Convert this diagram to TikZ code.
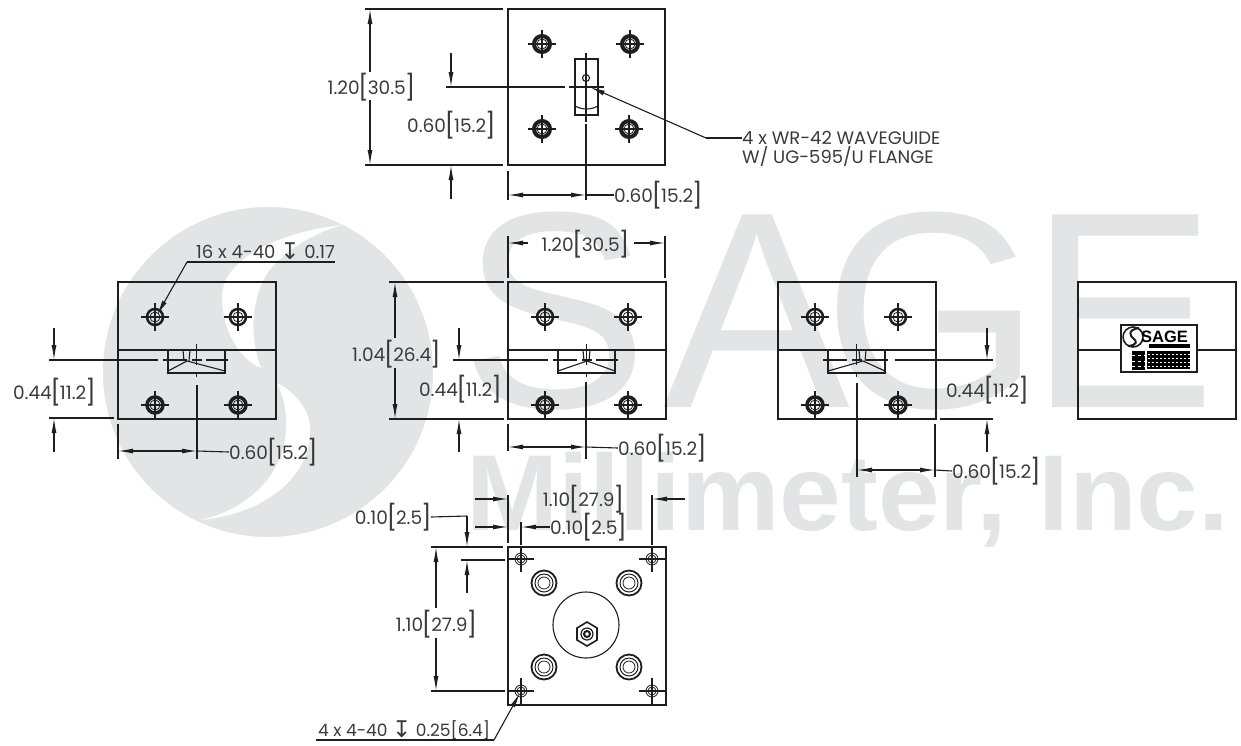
\documentclass[tikz,border=0pt]{standalone}
\usepackage{fontspec}
\setmainfont{Poppins}
\newfontfamily\wmfont{Liberation Sans}
\newfontfamily\symfont{DejaVu Sans}
\usetikzlibrary{arrows.meta}
\definecolor{wm}{HTML}{E3E4E5}
\definecolor{ink}{HTML}{1E1E1E}
\definecolor{txt}{HTML}{3A3A3A}
\tikzset{
  body/.style={draw=ink,line width=1.5pt},
  thin line/.style={draw=ink,line width=1.1pt},
  dimarrow/.style={draw=ink,line width=1.1pt,-{Latex[length=15pt,width=5pt]}},
  dimtwo/.style={draw=ink,line width=1.1pt,{Latex[length=15pt,width=5pt]}-{Latex[length=15pt,width=5pt]}},
  dimlabel/.style={text=txt,font=\fontsize{18.5}{20}\selectfont,inner sep=0pt},
  notelabel/.style={text=txt,font=\fontsize{18}{18}\selectfont,inner sep=0pt,anchor=west},
}
\newcommand{\Dep}{{\symfont\fontsize{23}{23}\selectfont\raisebox{-1pt}{\char"21A7}}}
\newcommand{\LB}{\kern-1.5pt\raisebox{-2.2pt}{\fontsize{25}{25}\selectfont[}\kern-1pt}
\newcommand{\RB}{\kern-1pt\raisebox{-2.2pt}{\fontsize{25}{25}\selectfont]}\kern-1pt}
\newcommand{\Dm}[2]{#1\LB#2\RB}
\newcommand{\holeA}[3][1.2pt]{%
  \draw[ink,line width=#1] (#2,#3) circle (8);
  \draw[ink,line width=.8pt] (#2,#3) circle (5);
  \draw[thin line] (#2-14,#3) -- (#2+14,#3) (#2,#3-14) -- (#2,#3+14);
}
\newcommand{\holeB}[2]{%
  \draw[ink,line width=.8pt] (#1,#2) circle (6);
  \draw[ink,line width=.8pt] (#1,#2) circle (4);
  \draw[thin line] (#1-13,#2) -- (#1+13,#2) (#1,#2-13) -- (#1,#2+13);
}
\newcommand{\ringhole}[2]{%
  \draw[ink,line width=1.8pt] (#1,#2) circle (12.5);
  \draw[ink,line width=1pt] (#1,#2) circle (9);
  \draw[ink,line width=.8pt] (#1,#2) circle (6);
}
% #1 left x of the body; #2 apex offset from centre
\newcommand{\sideview}[2]{%
  \draw[body] (#1,282) rectangle (#1+158,419);
  \draw[body] (#1,350) -- (#1+158,350);
  \holeA[2.5pt]{#1+37}{317}
  \holeA[2.5pt]{#1+120}{317}
  \holeA[3.5pt]{#1+37}{405}
  \holeA[3.5pt]{#1+120}{405}
  \draw[body] (#1+50,350) -- (#1+50,373) -- (#1+107,373) -- (#1+107,350);
  \draw[thin line] (#1+50,371) -- (#1+79+#2,361) -- (#1+107,371);
  \draw[thin line] (#1+75+#2,350) -- (#1+76+#2,361) (#1+82+#2,350) -- (#1+81+#2,361);
  \draw[thin line] (#1+45,360) -- (#1+69,360) (#1+74,360) -- (#1+84,360) (#1+88,360) -- (#1+110,360);
  \draw[thin line] (#1+78.5,344) -- (#1+78.5,365) (#1+78.5,372) -- (#1+78.5,377);
}
\begin{document}
\begin{tikzpicture}[x=1pt,y=-1pt]
\useasboundingbox (0,0) rectangle (1241,745);
\fill[white] (0,0) rectangle (1241,745);
% ---- watermark
\fill[wm] (268,372) circle (165);
\fill[white] (343,225) .. controls (290,230) and (222,255) .. (222,297)
  .. controls (222,330) and (240,360) .. (261,368)
  .. controls (250,340) and (250,300) .. (268,272)
  .. controls (285,250) and (315,232) .. (343,225) -- cycle;
\fill[white] (277,383) .. controls (300,395) and (312,415) .. (310,435)
  .. controls (308,480) and (260,515) .. (200,520)
  .. controls (245,510) and (278,480) .. (285,440)
  .. controls (288,415) and (285,400) .. (277,383) -- cycle;
\node[text=wm,inner sep=0pt,anchor=base west,font=\wmfont\fontsize{280}{280}\selectfont] (wmsage) at (461,407) {S\kern16ptA\kern-27ptG\kern-12ptE};
\node[text=wm,inner sep=0pt,anchor=base west,font=\wmfont\bfseries\fontsize{108}{108}\selectfont] (wmmilli) at (466,530) {\scalebox{1.025}[1]{Millimeter, Inc.}};
% ---- top view
\draw[body] (508,9) rectangle (665,165);
\holeA[4pt]{542}{44}
\holeA[4pt]{630}{44}
\holeA[4pt]{542}{129}
\holeA[4pt]{629}{129}
\draw[body] (575,59) rectangle (598,115);
\draw[thin line] (575,106) .. controls (582,110) and (591,110) .. (598,106);
\draw[thin line] (586,78) circle (3.5);
\draw[thin line] (586,53) -- (586,122) (586,124) -- (586,200);
\draw[thin line] (569,87) -- (604,87);
\draw[thin line] (365,9) -- (503,9) (365,165) -- (503,165);
\draw[thin line] (508,171) -- (508,200);
\node[dimlabel] (t1) at (371,87) {\Dm{1.20}{30.5}};
\node[dimlabel] (t2) at (451,125) {\Dm{0.60}{15.2}};
\node[dimlabel,anchor=west] (t3) at (614,195) {\Dm{0.60}{15.2}};
\draw[dimarrow] (370,72) -- (370,9);
\draw[dimarrow] (370,100) -- (370,165);
\draw[thin line] (446,87) -- (565,87);
\draw[dimarrow] (451,53) -- (451,87);
\draw[dimarrow] (451,199) -- (451,165);
\draw[dimtwo] (508,195) -- (586,195);
\draw[thin line] (586,195) -- (t3.west);
\coordinate (wgbend) at (706,138);
\node[notelabel] (wg1) at (742,138) {4 x WR-42 WAVEGUIDE};
\node[notelabel] (wg2) at (742,157) {W/ UG-595/U FLANGE};
\draw[thin line] (wg1.west) -- (wgbend);
\draw[dimarrow] (wgbend) -- (590,87);
% ---- left view
\sideview{118}{-10}
\draw[thin line] (49,360) -- (158,360);
\draw[thin line] (49,418) -- (114,418);
\draw[dimarrow] (54,328) -- (54,360);
\draw[dimarrow] (54,452) -- (54,418);
\node[dimlabel] (l1) at (54,392) {\Dm{0.44}{11.2}};
\draw[thin line] (118,424) -- (118,459);
\draw[thin line] (197,385) -- (197,459);
\draw[dimtwo] (118,451) -- (197,451);
\node[dimlabel,anchor=west] (l2) at (229,452) {\Dm{0.60}{15.2}};
\draw[thin line] (197,451) -- (l2.west);
\node[notelabel,anchor=base west] (l3) at (196,258) {16 x 4-40 \Dep{} 0.17};
\coordinate (lbend) at (187,262);
\coordinate (lend) at (335,262);
\draw[thin line] (lend) -- (lbend);
\draw[dimarrow] (lbend) -- (157,315);
% ---- middle view
\sideview{508}{0}
\draw[thin line] (508,236) -- (508,278) (665,236) -- (665,278);
\node[dimlabel] (m1) at (585,244) {\Dm{1.20}{30.5}};
\draw[dimarrow] (528,243) -- (508,243);
\draw[dimarrow] (634,243) -- (665,243);
\draw[thin line] (389,282) -- (504,282) (389,419) -- (504,419);
\node[dimlabel] (m2) at (396,354) {\Dm{1.04}{26.4}};
\draw[dimarrow] (395,338) -- (395,282);
\draw[dimarrow] (395,368) -- (395,419);
\draw[thin line] (453,360) -- (548,360);
\draw[dimarrow] (459,328) -- (459,360);
\draw[dimarrow] (459,452) -- (459,419);
\node[dimlabel] (m3) at (460,389) {\Dm{0.44}{11.2}};
\draw[thin line] (508,424) -- (508,451);
\draw[thin line] (586,382) -- (586,459);
\draw[dimtwo] (508,447) -- (586,447);
\node[dimlabel,anchor=west] (m4) at (618,448) {\Dm{0.60}{15.2}};
\draw[thin line] (586,447) -- (m4.west);
% ---- right view
\sideview{778}{6}
\draw[thin line] (895,360) -- (993,360);
\draw[thin line] (940,419) -- (993,419);
\draw[dimarrow] (987,328) -- (987,360);
\draw[dimarrow] (987,452) -- (987,419);
\node[dimlabel] (r1) at (987,390) {\Dm{0.44}{11.2}};
\draw[thin line] (857,383) -- (857,477) (935,424) -- (935,477);
\draw[dimtwo] (857,470) -- (935,470);
\node[dimlabel,anchor=west] (r2) at (952,471) {\Dm{0.60}{15.2}};
\draw[thin line] (935,470) -- (r2.west);
% ---- label view
\draw[body] (1078,282) rectangle (1236,419);
\draw[body] (1078,350) -- (1121,350) (1197,350) -- (1236,350);
\draw[body] (1121,325) rectangle (1197,372);
\draw[ink,line width=1.6pt] (1133,337) circle (10);
\draw[ink,line width=2pt] (1139,328) .. controls (1126,330) and (1131,337) .. (1133,338) .. controls (1137,341) and (1138,345) .. (1128,346);
\node[text=black,inner sep=0pt,anchor=base west,font=\wmfont\bfseries\fontsize{16.5}{17}\selectfont] (lab) at (1141,342) {SAGE};
\fill[black] (1149,344) rectangle (1190,348);
\fill[black] (1147,351) rectangle (1190,369);
\fill[black] (1132,351) rectangle (1145,370);
\foreach \yy in {354,358,362,366}{\draw[white,line width=.6pt,dash pattern=on 2pt off 2pt] (1148,\yy) -- (1190,\yy);}
\foreach \yy in {355,361,366}{\draw[white,line width=1pt,dash pattern=on 3pt off 3pt] (1132,\yy) -- (1145,\yy);}
% ---- bottom view
\draw[body] (508,547) rectangle (666,705);
\holeB{521}{559}
\holeB{652}{559}
\holeB{521}{691}
\holeB{652}{691}
\ringhole{544}{583}
\ringhole{629}{583}
\ringhole{544}{667}
\ringhole{629}{667}
\draw[thin line] (586,625) circle (33);
\draw[ink,line width=1.6pt] (587,622) -- (597,628) -- (597,640) -- (587,646) -- (577,640) -- (577,628) -- cycle;
\draw[ink,line width=1.2pt] (587,634) circle (6);
\draw[ink,line width=2pt] (587,634) circle (3);
\draw[thin line] (431,547) -- (503,547) (431,691) -- (505,691);
\node[dimlabel] (b1) at (436,624) {\Dm{1.10}{27.9}};
\draw[dimarrow] (436,608) -- (436,547);
\draw[dimarrow] (436,638) -- (436,691);
\node[dimlabel,anchor=east] (b2) at (431,517) {\Dm{0.10}{2.5}};
\coordinate (bbend) at (467,516);
\draw[thin line] (b2.east) -- (bbend);
\draw[dimarrow] (bbend) -- (467,547);
\draw[thin line] (461,560) -- (505,560);
\draw[dimarrow] (467,593) -- (467,560);
\draw[thin line] (508,495) -- (508,543) (652,495) -- (652,545) (521,522) -- (521,545);
\node[dimlabel] (b3) at (583,499) {\Dm{1.10}{27.9}};
\draw[dimarrow] (475,499) -- (508,499);
\draw[dimarrow] (685,499) -- (652,499);
\draw[dimarrow] (475,527) -- (508,527);
\node[dimlabel,anchor=west] (b4) at (550,527) {\Dm{0.10}{2.5}};
\draw[dimarrow] (b4.west) -- (521,527);
\node[notelabel,anchor=base west,font=\fontsize{17}{18}\selectfont] (b5) at (318,736) {4 x 4-40 \Dep{} 0.25[6.4]};
\coordinate (bl0) at (316,740);
\coordinate (bl1) at (494,740);
\draw[thin line] (bl0) -- (bl1);
\draw[dimarrow] (bl1) -- (520,693);
\end{tikzpicture}
\end{document}
